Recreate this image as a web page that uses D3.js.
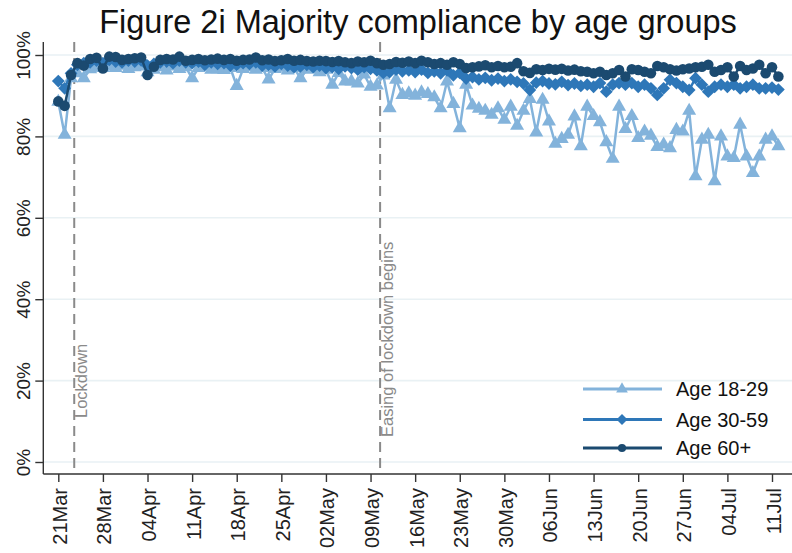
<!DOCTYPE html>
<html><head><meta charset="utf-8">
<script src="https://cdn.jsdelivr.net/npm/d3@7"></script>
<style>body{margin:0;background:#fff} svg{display:block} text{font-family:"Liberation Sans",Arial,sans-serif}</style>
</head><body><svg id="c" width="792" height="553"></svg>
<script>
const titleText = "Figure 2i Majority compliance by age groups";
const startDate = "21Mar2020";
const seriesNames = ["Age 18-29", "Age 30-59", "Age 60+"];
const age1829 = [88.5,80.4,94.3,95.5,94.3,96.5,97.0,96.8,97.2,96.8,97.4,96.6,97.0,97.2,95.8,96.4,97.0,96.2,97.2,96.6,
  97.0,94.3,96.8,97.2,96.4,96.5,96.3,96.8,92.4,96.6,97.0,96.4,96.8,94.0,96.6,96.9,96.2,96.8,94.3,96.4,
  96.6,95.8,96.4,92.7,95.6,93.5,93.5,93.0,95.2,92.2,92.5,95.0,86.9,93.9,90.2,90.6,90.0,90.8,90.4,89.6,
  86.9,93.5,88.0,82.0,92.7,87.6,86.8,86.3,85.3,86.9,84.1,87.3,82.6,86.3,89.2,81.0,89.0,83.7,78.2,79.4,
  80.4,84.9,77.6,87.3,85.0,83.5,78.6,74.5,87.3,81.8,85.0,79.6,81.2,80.2,77.4,78.0,77.1,81.6,81.2,86.3,
  70.2,79.2,80.4,69.0,80.0,75.1,74.7,82.9,75.1,71.0,75.1,79.2,80.0,77.6];
const age3059 = [93.6,91.8,95.5,97.6,98.0,98.2,98.6,98.0,98.8,98.4,98.2,98.6,98.4,98.7,97.4,97.8,98.2,98.4,98.0,98.6,
  98.2,98.0,98.4,97.6,98.2,97.8,98.0,97.4,97.6,98.0,97.8,98.2,97.4,97.6,97.2,97.8,97.4,97.0,97.2,97.6,
  97.0,97.4,96.8,97.0,96.6,97.2,96.8,96.4,97.0,96.6,96.2,95.6,95.8,96.4,96.0,96.2,95.8,96.4,95.6,96.0,
  95.5,96.2,95.0,95.6,94.2,94.6,94.0,94.4,93.8,94.2,93.6,94.0,93.4,93.0,91.4,93.2,93.6,93.0,92.8,93.4,
  92.6,93.0,92.4,92.7,92.2,93.1,91.0,92.7,93.1,92.7,93.1,92.2,92.7,91.8,90.2,91.8,93.9,93.1,92.2,91.4,
  94.3,92.7,91.0,92.2,92.7,92.2,92.7,91.8,92.2,92.7,91.8,91.8,92.0,91.5];
const age60 = [88.6,87.5,95.1,98.0,97.4,99.0,99.3,96.7,99.6,99.5,98.8,99.0,99.2,99.4,95.1,97.1,98.8,99.0,98.9,99.6,
  98.6,98.8,99.0,98.7,98.9,99.1,98.8,99.0,98.6,98.8,98.9,99.4,98.7,98.9,98.5,98.7,99.0,98.6,98.8,98.5,
  98.4,98.6,98.5,98.3,98.5,98.2,98.0,98.4,98.2,98.6,98.0,97.6,97.8,98.3,98.1,98.4,98.0,98.6,98.2,97.8,
  98.0,97.6,98.2,97.8,96.8,97.0,97.2,97.5,97.0,97.3,97.0,97.1,98.0,96.0,95.6,96.5,96.3,96.6,96.4,96.6,
  96.2,96.4,96.0,95.9,95.5,95.9,95.1,95.5,96.3,94.7,96.5,96.3,95.9,95.5,97.3,97.0,96.5,96.2,96.5,96.7,
  97.0,97.1,97.6,95.9,96.3,97.0,94.7,97.3,96.3,96.7,97.6,95.5,97.0,94.7];
const tickLabels = ["21Mar","28Mar","04Apr","11Apr","18Apr","25Apr","02May","09May","16May","23May","30May","06Jun","13Jun","20Jun","27Jun","04Jul","11Jul"];
const yTicks = [0, 20, 40, 60, 80, 100];
const eventDates = ["23Mar2020 12", "10May2020 12"];
const eventLabels = ["Lockdown", "Easing of lockdown begins"];

const colors = ["#83b3db", "#2e77b8", "#1b4a70"];
const parseDay = d3.utcParse("%d%b%Y");
const parseDayHour = d3.utcParse("%d%b%Y %H");
const start = parseDay(startDate);
const dates = age60.map((_, i) => d3.utcDay.offset(start, i));
const tickDates = tickLabels.map(t => parseDay(t + "2020"));

const svg = d3.select("#c");
const x = d3.scaleUtc().domain([tickDates[0], tickDates[tickDates.length - 1]]).range([58.3, 772]);
const y = d3.scaleLinear().domain([0, 100]).range([462, 55]);
const pLeft = 43.3, pRight = 792, pBottom = 474, pTop = 42;

// title
svg.append("text").attr("x", 418).attr("y", 33).attr("text-anchor", "middle")
  .attr("font-size", 32.5).attr("fill", "#111").text(titleText);

// gridlines
svg.append("g").selectAll("line").data(yTicks).join("line")
  .attr("x1", pLeft).attr("x2", pRight).attr("y1", d => y(d)).attr("y2", d => y(d))
  .attr("stroke", "#e9f1f4").attr("stroke-width", 1.6);

// y axis
const yAxis = svg.append("g").attr("transform", `translate(${pLeft},0)`)
  .call(d3.axisLeft(y).tickValues(yTicks).tickSize(8).tickFormat(d => d + "%"));
yAxis.select(".domain").remove();
yAxis.selectAll(".tick line").attr("stroke", "#333").attr("stroke-width", 1.4);
yAxis.selectAll(".tick text").attr("font-size", 19).attr("fill", "#222")
  .attr("text-anchor", "middle").attr("x", null).attr("dy", null)
  .attr("transform", "translate(-13,0) rotate(-90)");
svg.append("line").attr("x1", pLeft).attr("x2", pLeft).attr("y1", pTop).attr("y2", pBottom)
  .attr("stroke", "#333").attr("stroke-width", 1.4);

// x axis
const xAxis = svg.append("g").attr("transform", `translate(0,${pBottom})`)
  .call(d3.axisBottom(x).tickValues(tickDates).tickSize(8).tickFormat((d, i) => tickLabels[i]));
xAxis.select(".domain").remove();
xAxis.selectAll(".tick line").attr("stroke", "#333").attr("stroke-width", 1.4);
xAxis.selectAll(".tick text").attr("font-size", 20).attr("fill", "#222")
  .attr("text-anchor", "end").attr("y", null).attr("dy", null)
  .attr("transform", "translate(8,14) rotate(-90)");
svg.append("line").attr("x1", pLeft).attr("x2", pRight).attr("y1", pBottom).attr("y2", pBottom)
  .attr("stroke", "#333").attr("stroke-width", 1.4);

// event lines
const evG = svg.append("g");
eventDates.forEach((ed, i) => {
  const ex = x(parseDayHour(ed));
  evG.append("line").attr("x1", ex).attr("x2", ex).attr("y1", pTop).attr("y2", pBottom)
    .attr("stroke", "#8a8a8a").attr("stroke-width", 2).attr("stroke-dasharray", "10,6");
  evG.append("text").attr("transform", `translate(${ex + 13},${i === 0 ? 418 : 437}) rotate(-90)`)
    .attr("font-size", 16.5).attr("fill", "#8a8a8a").text(eventLabels[i]);
});

// series
const series = [age1829, age3059, age60];
const line = d3.line().x((d, i) => x(dates[i])).y(d => y(d));
const symbols = [
  d3.symbol().type(d3.symbolTriangle).size(85),
  d3.symbol().type(d3.symbolSquare).size(82),
  d3.symbol().type(d3.symbolCircle).size(88)
];
const legendSymbols = [
  d3.symbol().type(d3.symbolTriangle).size(60),
  d3.symbol().type(d3.symbolSquare).size(60),
  d3.symbol().type(d3.symbolCircle).size(52)
];
series.forEach((vals, s) => {
  const g = svg.append("g");
  g.append("path").datum(vals).attr("d", line).attr("fill", "none")
    .attr("stroke", colors[s]).attr("stroke-width", 2.5).attr("stroke-linejoin", "round");
  g.selectAll("path.m").data(vals).join("path").attr("class", "m")
    .attr("d", symbols[s])
    .attr("transform", (d, i) => `translate(${x(dates[i])},${y(d)})` + (s === 1 ? " rotate(45)" : ""))
    .attr("fill", colors[s]);
});

// legend
const lg = svg.append("g");
const legY = [389, 419.5, 448];
seriesNames.forEach((name, s) => {
  lg.append("line").attr("x1", 583).attr("x2", 662).attr("y1", legY[s]).attr("y2", legY[s])
    .attr("stroke", colors[s]).attr("stroke-width", 3);
  lg.append("path").attr("d", legendSymbols[s])
    .attr("transform", `translate(622,${legY[s]})` + (s === 1 ? " rotate(45)" : ""))
    .attr("fill", colors[s]);
  lg.append("text").attr("x", 676).attr("y", legY[s]).attr("dy", "0.35em")
    .attr("font-size", 20).attr("fill", "#111").text(name);
});
</script></body></html>
